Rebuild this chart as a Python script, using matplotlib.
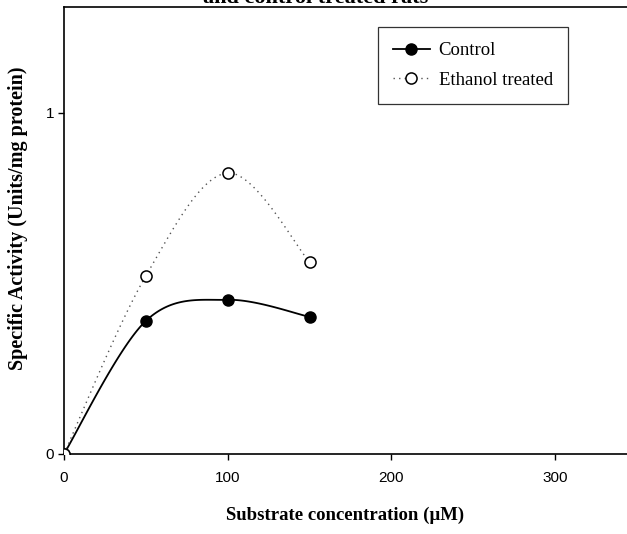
import matplotlib
matplotlib.use("Agg")
import matplotlib.pyplot as plt
import numpy as np

# data
conc = [0, 50, 100, 150]
control = [0.0, 0.39, 0.452, 0.402]
ethanol = [0.0, 0.522, 0.824, 0.563]
xticks = [0, 100, 200, 300]
yticks = [0, 1]


def smooth(xs, ys, n=40):
    # Excel-style smoothed line: cubic Bezier segments through the points
    p = np.column_stack([xs, ys]).astype(float)
    out = []
    for i in range(len(p) - 1):
        p0 = p[i - 1] if i > 0 else p[i]
        p3 = p[i + 2] if i + 2 < len(p) else p[i + 1]
        c1 = p[i] + (p[i + 1] - p0) / 6
        c2 = p[i + 1] - (p3 - p[i]) / 6
        t = np.linspace(0, 1, n)[:, None]
        seg = ((1 - t) ** 3 * p[i] + 3 * (1 - t) ** 2 * t * c1
               + 3 * (1 - t) * t ** 2 * c2 + t ** 3 * p[i + 1])
        out.append(seg)
    out = np.vstack(out)
    return out[:, 0], out[:, 1]


fig = plt.figure(figsize=(6.27, 5.34), dpi=100)
ax = fig.add_axes([0.102, 0.15, 0.898, 0.837])

# control: solid smoothed line with filled markers
sx, sy = smooth(conc, control)
ax.plot(sx, sy, color='black', lw=1.3)
ax.plot(conc, control, 'o', color='black', ms=8, zorder=3)

# ethanol: dotted smoothed line with open markers
ex, ey = smooth(conc, ethanol)
ax.plot(ex, ey, color='#555555', lw=1.0, linestyle=(0, (1, 3)))
ax.plot(conc, ethanol, 'o', mfc='white', mec='black', mew=1.1, ms=8, zorder=4)

# legend handles
h1, = ax.plot([], [], '-o', color='black', lw=1.3, ms=8)
h2, = ax.plot([], [], 'o', mfc='white', mec='black', mew=1.1, ms=8,
              color='#555555', linestyle=(0, (1, 3)), lw=1.0)
leg = ax.legend([h1, h2], ['Control', 'Ethanol treated'],
                loc='upper left', bbox_to_anchor=(0.557, 0.955),
                frameon=True, fancybox=False, edgecolor='black',
                prop={'family': 'Liberation Serif', 'size': 13.5},
                handlelength=2.0, borderpad=0.8, labelspacing=0.66,
                handletextpad=0.45, borderaxespad=0)
leg.get_frame().set_linewidth(0.9)

ax.set_xlim(0, 343.9)
ax.set_ylim(0, 1.311)
ax.set_xticks(xticks)
ax.set_yticks(yticks)
ax.tick_params(direction='out', length=4, width=1, labelsize=11)
ax.tick_params(axis='x', pad=8)
ax.tick_params(axis='y', pad=3)
for lab in ax.get_xticklabels() + ax.get_yticklabels():
    lab.set_family('Liberation Sans')
ax.spines['right'].set_visible(False)
for s in ['left', 'bottom', 'top']:
    ax.spines[s].set_linewidth(1.2)

ax.set_xlabel('Substrate concentration (\u00b5M)', family='Liberation Serif',
              fontweight='bold', fontsize=13.5, labelpad=16)
ax.set_ylabel('Specific Activity (Units/mg protein)', family='Liberation Serif',
              fontweight='bold', fontsize=14.5)
ax.yaxis.set_label_coords(-0.063, 0.528)

# title line cut off by the scan
fig.text(0.504, 1 - 3 / 534, 'and control treated rats', ha='center', va='baseline',
         family='Liberation Serif', fontweight='bold', fontsize=16)

fig.savefig('out.png', dpi=100)
